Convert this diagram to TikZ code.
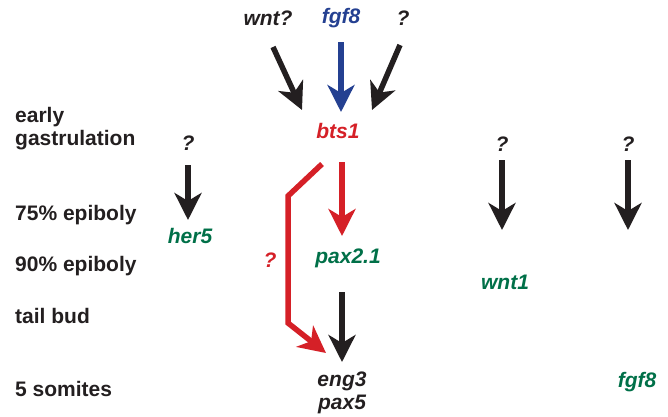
\documentclass[tikz,border=0pt]{standalone}
\usepackage{fontspec}
\setmainfont{Liberation Sans}
\usetikzlibrary{arrows.meta}
\definecolor{gred}{RGB}{213,32,39}
\definecolor{gblue}{RGB}{36,64,145}
\definecolor{ggreen}{RGB}{0,112,72}
\definecolor{gblack}{RGB}{35,31,32}
\tikzset{
  stage/.style={anchor=west, font=\fontsize{21}{23}\selectfont\bfseries, text=gblack, inner sep=0pt, align=left},
  gene/.style={font=\fontsize{21}{23}\selectfont\bfseries\itshape, inner sep=0pt},
  qmark/.style={gene, text=gblack},
  link/.style={line width=5.5pt, -{Stealth[length=27pt,width=27pt,inset=8pt]}},
}
\begin{document}
\begin{tikzpicture}[x=1pt,y=-1pt]
\useasboundingbox (0,0) rectangle (668,416);

% developmental stages
\node[stage] (s1) at (15,129) {early\\[0pt]gastrulation};
\node[stage] (s2) at (15,215) {75\% epiboly};
\node[stage] (s3) at (15,266) {90\% epiboly};
\node[stage] (s4) at (15,316) {tail bud};
\node[stage] (s5) at (15,389) {5 somites};

% upstream signals
\node[qmark] (wnt) at (268,18) {wnt?};
\node[gene, text=gblue] (fgf) at (341,18) {fgf8};
\node[qmark] (q0) at (403,18) {?};
\node[gene, text=gred] (bts) at (338,131) {bts1};

\coordinate (wa) at (273,47);  \coordinate (wb) at (302,110);
\coordinate (fa) at (341,42);  \coordinate (fb) at (341,112);
\coordinate (qa) at (400,45);  \coordinate (qb) at (372,110);
\draw[link, gblack] (wa) -- (wb);
\draw[link, gblue] (fa) -- (fb);
\draw[link, gblack] (qa) -- (qb);

% bts1 targets
\node[gene, text=ggreen] (pax2) at (348,258) {pax2.1};
\node[gene, text=gblack, align=center] (eng) at (342,393) {eng3\\[0pt]pax5};
\node[gene, text=gred] (qr) at (270,260) {?};

\coordinate (ra) at (342,162); \coordinate (rb) at (342,236);
\draw[link, gred] (ra) -- (rb);
\coordinate (ka) at (342,292); \coordinate (kb) at (342,362);
\draw[link, gblack] (ka) -- (kb);

\coordinate (b0) at (322,164);
\coordinate (b1) at (288,196);
\coordinate (b2) at (288,323);
\coordinate (b3) at (326,353);
\draw[link, gred, line join=miter] (b0) -- (b1) -- (b2) -- (b3);

% independent pathways
\node[qmark] (q1) at (188,143) {?};
\node[gene, text=ggreen] (her5) at (190,236) {her5};
\coordinate (h1) at (188,165); \coordinate (h2) at (188,220);
\draw[link, gblack] (h1) -- (h2);

\node[qmark] (q2) at (502,144) {?};
\node[gene, text=ggreen] (wnt1) at (505,282) {wnt1};
\coordinate (v1) at (502,160); \coordinate (v2) at (502,230);
\draw[link, gblack] (v1) -- (v2);

\node[qmark] (q3) at (628,144) {?};
\node[gene, text=ggreen] (fgf8b) at (637,382) {fgf8};
\coordinate (u1) at (628,160); \coordinate (u2) at (628,230);
\draw[link, gblack] (u1) -- (u2);
\end{tikzpicture}
\end{document}
